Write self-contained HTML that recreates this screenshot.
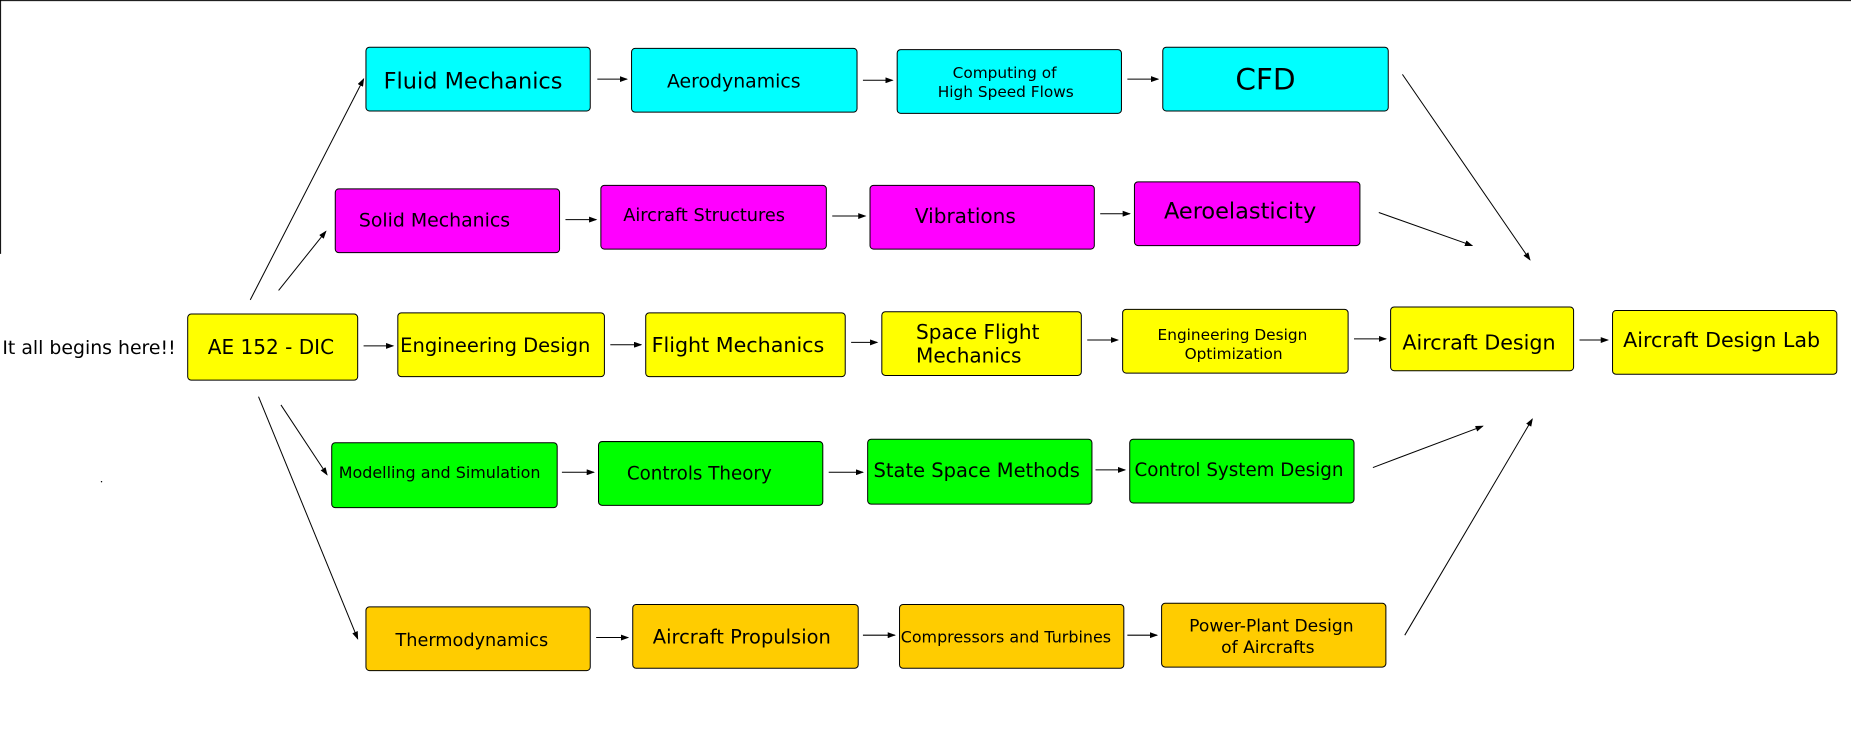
<!DOCTYPE html>
<html><head><meta charset="utf-8"><style>
html,body{margin:0;padding:0;background:#fff;}
svg{display:block;}
text{font-family:"DejaVu Sans","Liberation Sans",sans-serif;fill:#000;}
</style></head><body>
<svg width="1851" height="732" viewBox="0 0 1568 620" preserveAspectRatio="none" xmlns="http://www.w3.org/2000/svg">
<defs><marker id="a" markerWidth="7" markerHeight="5" refX="6" refY="2.5" orient="auto" markerUnits="userSpaceOnUse"><path d="M0,0 L7,2.5 L0,5 z" fill="#000"/></marker></defs>
<line x1="0" y1="0.5" x2="1568" y2="0.5" stroke="#000" stroke-width="0.85"/>
<line x1="0.5" y1="0" x2="0.5" y2="215" stroke="#000" stroke-width="0.85"/>
<g stroke="#000" stroke-width="0.85">
<rect x="310" y="40" width="190" height="54" rx="3" fill="#00ffff"/>
<rect x="535" y="41" width="191" height="54" rx="3" fill="#00ffff"/>
<rect x="760" y="42" width="190" height="54" rx="3" fill="#00ffff"/>
<rect x="985" y="40" width="191" height="54" rx="3" fill="#00ffff"/>
<rect x="284" y="160" width="190" height="54" rx="3" fill="#ff00ff"/>
<rect x="509" y="157" width="191" height="54" rx="3" fill="#ff00ff"/>
<rect x="737" y="157" width="190" height="54" rx="3" fill="#ff00ff"/>
<rect x="961" y="154" width="191" height="54" rx="3" fill="#ff00ff"/>
<rect x="159" y="266" width="144" height="56" rx="3" fill="#ffff00"/>
<rect x="337" y="265" width="175" height="54" rx="3" fill="#ffff00"/>
<rect x="547" y="265" width="169" height="54" rx="3" fill="#ffff00"/>
<rect x="747" y="264" width="169" height="54" rx="3" fill="#ffff00"/>
<rect x="951" y="262" width="191" height="54" rx="3" fill="#ffff00"/>
<rect x="1178" y="260" width="155" height="54" rx="3" fill="#ffff00"/>
<rect x="1366" y="263" width="190" height="54" rx="3" fill="#ffff00"/>
<rect x="281" y="375" width="191" height="55" rx="3" fill="#00ff00"/>
<rect x="507" y="374" width="190" height="54" rx="3" fill="#00ff00"/>
<rect x="735" y="372" width="190" height="55" rx="3" fill="#00ff00"/>
<rect x="957" y="372" width="190" height="54" rx="3" fill="#00ff00"/>
<rect x="310" y="514" width="190" height="54" rx="3" fill="#ffcc00"/>
<rect x="536" y="512" width="191" height="54" rx="3" fill="#ffcc00"/>
<rect x="762" y="512" width="190" height="54" rx="3" fill="#ffcc00"/>
<rect x="984" y="511" width="190" height="54" rx="3" fill="#ffcc00"/>
</g>
<g stroke="#000" stroke-width="0.85" marker-end="url(#a)">
<line x1="506" y1="67" x2="531" y2="67"/>
<line x1="731" y1="68" x2="756" y2="68"/>
<line x1="955" y1="67" x2="981" y2="67"/>
<line x1="479" y1="186" x2="505" y2="186"/>
<line x1="705" y1="183" x2="733" y2="183"/>
<line x1="932" y1="181" x2="957" y2="181"/>
<line x1="308" y1="293" x2="333" y2="293"/>
<line x1="517" y1="292" x2="543" y2="292"/>
<line x1="721" y1="290" x2="743" y2="290"/>
<line x1="921" y1="288" x2="947" y2="288"/>
<line x1="1147" y1="287" x2="1174" y2="287"/>
<line x1="1338" y1="288" x2="1362" y2="288"/>
<line x1="476" y1="400" x2="503" y2="400"/>
<line x1="702" y1="400" x2="731" y2="400"/>
<line x1="928" y1="398" x2="953" y2="398"/>
<line x1="505" y1="540" x2="532" y2="540"/>
<line x1="731" y1="538" x2="758" y2="538"/>
<line x1="955" y1="538" x2="980" y2="538"/>
<line x1="212" y1="254" x2="308" y2="67"/>
<line x1="236" y1="246" x2="276" y2="196"/>
<line x1="238" y1="343" x2="277" y2="402"/>
<line x1="219" y1="336" x2="303" y2="541"/>
<line x1="1188" y1="63" x2="1296" y2="220"/>
<line x1="1168" y1="180" x2="1247" y2="208"/>
<line x1="1163" y1="396" x2="1256" y2="361"/>
<line x1="1190" y1="538" x2="1298" y2="355"/>
</g>
<circle cx="86" cy="408" r="0.6" fill="#000"/>
<text x="2" y="300" font-size="16">It all begins here!!</text>
<text x="176" y="300" font-size="17">AE 152 - DIC</text>
<text x="325" y="75" font-size="19">Fluid Mechanics</text>
<text x="565" y="74" font-size="16">Aerodynamics</text>
<text x="851" y="66" font-size="13" text-anchor="middle">Computing of</text>
<text x="852" y="82" font-size="13" text-anchor="middle">High Speed Flows</text>
<text x="1072" y="76" font-size="25" text-anchor="middle">CFD</text>
<text x="304" y="192" font-size="16">Solid Mechanics</text>
<text x="528" y="187" font-size="15">Aircraft Structures</text>
<text x="775" y="189" font-size="17">Vibrations</text>
<text x="986" y="185" font-size="19">Aeroelasticity</text>
<text x="339" y="298" font-size="16.5">Engineering Design</text>
<text x="552" y="298" font-size="17.5">Flight Mechanics</text>
<text x="776" y="287" font-size="17">Space Flight</text>
<text x="776" y="307" font-size="17">Mechanics</text>
<text x="1044" y="288" font-size="13" text-anchor="middle">Engineering Design</text>
<text x="1045" y="304" font-size="13" text-anchor="middle">Optimization</text>
<text x="1188" y="296" font-size="17.5">Aircraft Design</text>
<text x="1375" y="294" font-size="17.5">Aircraft Design Lab</text>
<text x="287" y="405" font-size="13.5">Modelling and Simulation</text>
<text x="531" y="406" font-size="15.5">Controls Theory</text>
<text x="740" y="404" font-size="16.5">State Space Methods</text>
<text x="961" y="403" font-size="15.5">Control System Design</text>
<text x="335" y="547" font-size="15">Thermodynamics</text>
<text x="553" y="545" font-size="16.5">Aircraft Propulsion</text>
<text x="763" y="544" font-size="13.5">Compressors and Turbines</text>
<text x="1077" y="535" font-size="14.5" text-anchor="middle">Power-Plant Design</text>
<text x="1074" y="553" font-size="14.5" text-anchor="middle">of Aircrafts</text>
</svg>
</body></html>
